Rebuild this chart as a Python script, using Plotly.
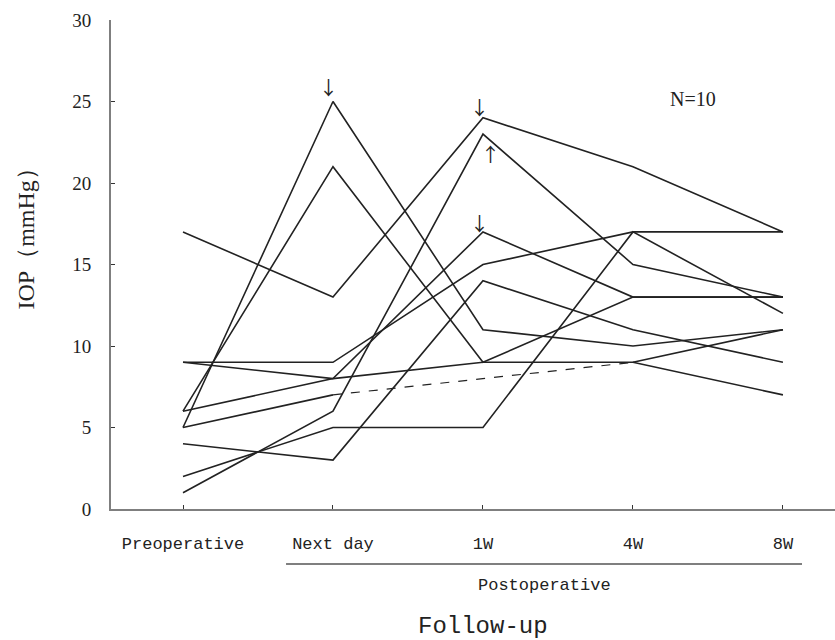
import plotly.graph_objects as go

# ---- data ----
timepoints = ["Preoperative", "Next day", "1W", "4W", "8W"]
x_pos = [0, 1, 2, 3, 4]
y_ticks = [0, 5, 10, 15, 20, 25, 30]

patient_1 = [5, 25, 11, 10, 11]
patient_2 = [6, 21, 9, 13, 13]
patient_3 = [17, 13, 24, 21, 17]
patient_4 = [9, 9, 15, 17, 17]
patient_5 = [9, 8, 9, 9, 7]
patient_6 = [6, 8, 17, 13, 13]
patient_7 = [5, 7, None, 9, 11]   # 1W missing -> dashed link Next day -> 4W
patient_8 = [4, 3, 14, 11, 9]
patient_9 = [2, 5, 5, 17, 12]
patient_10 = [1, 6, 23, 15, 13]

patients = [patient_1, patient_2, patient_3, patient_4, patient_5,
            patient_6, patient_7, patient_8, patient_9, patient_10]

LINE = "#222222"
AXIS = "#7f7f7f"
SERIF = "Liberation Serif, Times New Roman, serif"
MONO = "Liberation Mono, Courier New, monospace"
CJK = "Noto Sans CJK SC, Noto Sans CJK JP, sans-serif"

fig = go.Figure()
for p in patients:
    fig.add_trace(go.Scatter(x=x_pos, y=p, mode="lines", connectgaps=False,
                             line=dict(color=LINE, width=1.6),
                             showlegend=False, hoverinfo="skip"))

# dashed segment for the patient with missing 1W value
fig.add_trace(go.Scatter(x=[x_pos[1], x_pos[3]], y=[patient_7[1], patient_7[3]],
                         mode="lines", line=dict(color=LINE, width=1.2, dash="dash"),
                         showlegend=False, hoverinfo="skip"))

fig.update_layout(
    width=835, height=640,
    margin=dict(l=111, r=0, t=20, b=131),
    plot_bgcolor="white", paper_bgcolor="white",
    showlegend=False,
    xaxis=dict(range=[-0.48, 4.347], tickmode="array", tickvals=x_pos, ticktext=timepoints,
               showgrid=False, zeroline=False, showline=True, linecolor=AXIS, linewidth=2,
               ticks="inside", ticklen=4, tickcolor="#333", tickwidth=1,
               ticklabelstandoff=18,
               tickfont=dict(family=MONO, size=17, color="#222")),
    yaxis=dict(range=[0, 30], tickmode="array", tickvals=y_ticks,
               showgrid=False, zeroline=False, showline=True, linecolor=AXIS, linewidth=2,
               ticks="inside", ticklen=4, tickcolor="#333", tickwidth=1,
               ticklabelstandoff=14,
               tickfont=dict(family=SERIF, size=19, color="#222")),
)

# y-axis title placed to match the reference
fig.add_annotation(x=-0.117, y=0.564, xref="paper", yref="paper", text="IOP（mmHg）",
                   textangle=-90, showarrow=False,
                   font=dict(family=SERIF, size=24, color="#222"),
                   xanchor="center", yanchor="middle")

# Postoperative bracket line
fig.add_shape(type="line", xref="x", yref="paper", x0=0.687, x1=4.127,
              y0=-0.1125, y1=-0.1125, line=dict(color=AXIS, width=2))

fig.add_annotation(x=2.407, y=-0.157, xref="x", yref="paper", text="Postoperative",
                   showarrow=False, font=dict(family=MONO, size=17, color="#222"),
                   xanchor="center", yanchor="middle")
fig.add_annotation(x=2.0, y=-0.24, xref="x", yref="paper", text="Follow-up",
                   showarrow=False, font=dict(family=MONO, size=24, color="#222"),
                   xanchor="center", yanchor="middle")
fig.add_annotation(x=3.4, y=25.15, xref="x", yref="y", text="N=10",
                   showarrow=False, font=dict(family=SERIF, size=20, color="#222"),
                   xanchor="center", yanchor="middle")

# arrow markers
arrow_marks = [("↓", 0.967, 25.95), ("↓", 1.98, 24.7), ("↑", 2.05, 21.8), ("↓", 1.98, 17.6)]
for sym, ax_, ay_ in arrow_marks:
    fig.add_annotation(x=ax_, y=ay_, xref="x", yref="y", text=sym, showarrow=False,
                       font=dict(family=CJK, size=19, color="#222"),
                       xanchor="center", yanchor="middle")

fig.write_html("out.html")
